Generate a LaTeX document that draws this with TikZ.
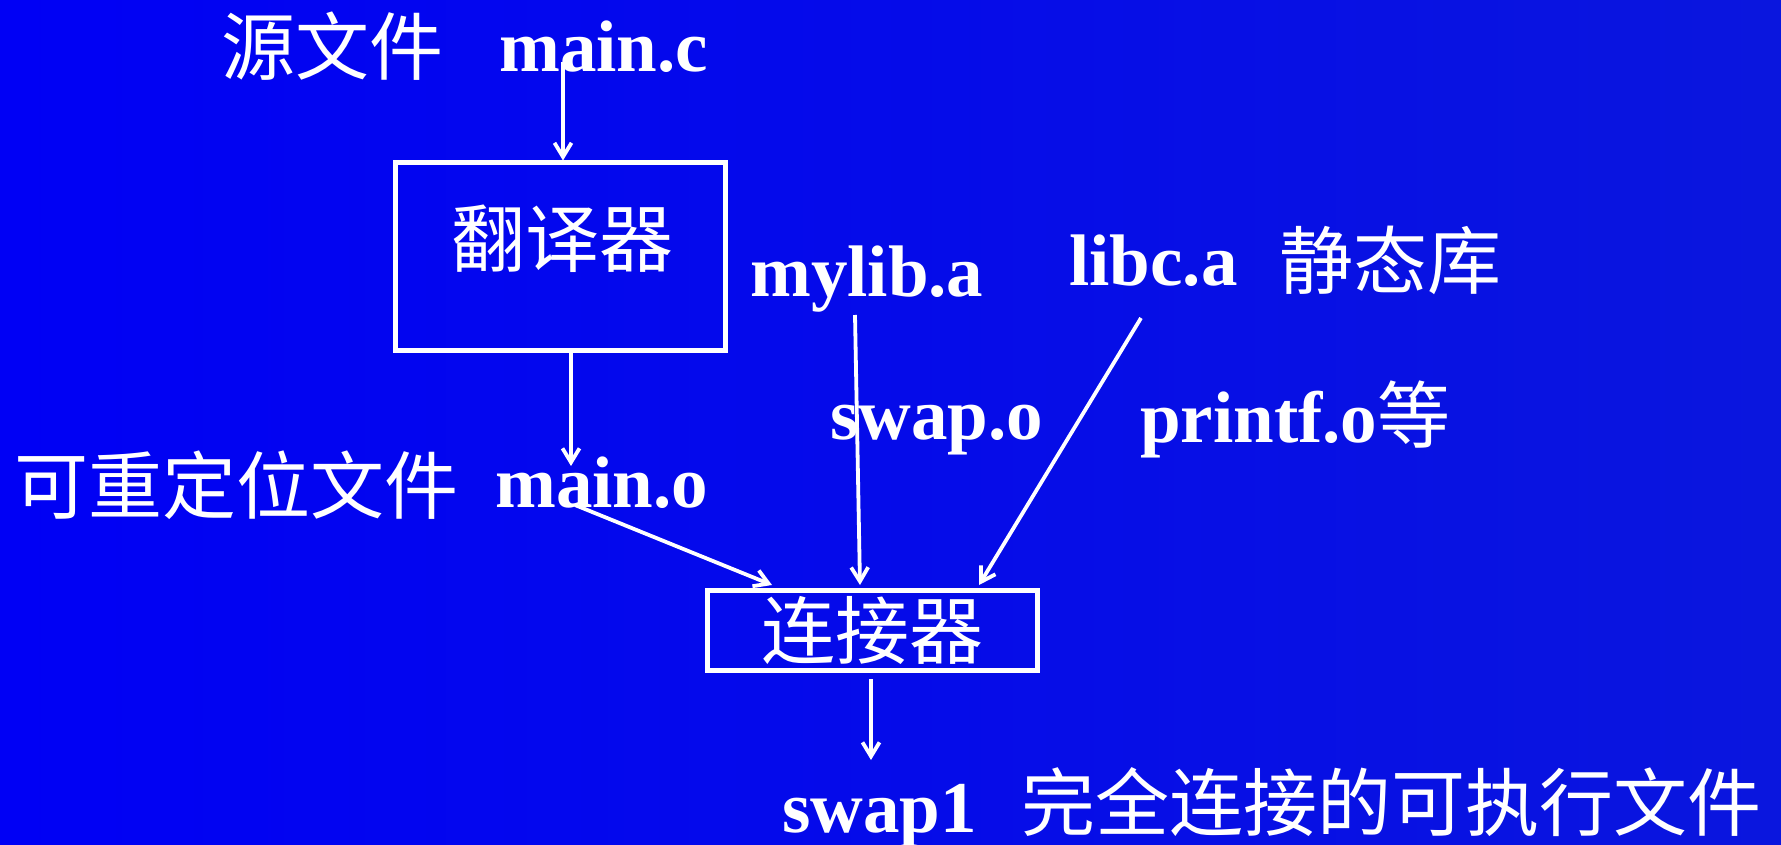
\documentclass[tikz,border=0pt]{standalone}
\usepackage{fontspec}
\setmainfont{Liberation Serif}
\newfontfamily\cjk{Noto Sans CJK SC}
\usetikzlibrary{arrows.meta}
\definecolor{bgblue}{RGB}{0,0,245}
\definecolor{bgdark}{RGB}{10,22,222}
\begin{document}
\begin{tikzpicture}[x=1pt,y=-1pt,
  lat/.style={anchor=base west,inner sep=0pt,text=white,font=\fontsize{73}{80}\selectfont\bfseries},
  cn/.style={anchor=base west,inner sep=0pt,text=white,font=\fontsize{74}{80}\selectfont\cjk},
  boxr/.style={draw=white,line width=5pt,inner sep=0pt,minimum width=330pt},
  conn/.style={draw=white,line width=3.8pt,-{Straight Barb[length=14pt,width=17pt]}}
]
\fill[left color=bgblue,right color=bgdark] (0,0) rectangle (1781,845);
\useasboundingbox (0,0) rectangle (1781,845);

% boxes
\node[boxr,minimum height=187pt] (trans) at (560.5,256.5) {};
\node[cn] (transtxt) at (451,267) {翻译器};
\node[boxr,minimum height=80pt,text=white,font=\fontsize{74}{80}\selectfont\cjk] (link) at (872.5,630.5) {连接器};

% labels
\node[cn] (srccn) at (221,75) {源文件};
\node[lat] (mainc) at (499,72) {main.c};
\node[cn] (relcn) at (14,513) {可重定位文件};
\node[lat] (maino) at (495,507) {main.o};
\node[lat] (mylib) at (750,296) {mylib.a};
\node[lat] (libc) at (1069,286) {libc.a};
\node[cn] (staticcn) at (1279,288) {静态库};
\node[lat] (swapo) at (830,439) {swap.o};
\node[lat] (printfo) at (1140,442) {printf.o{\cjk\mdseries 等}};
\node[lat] (swapone) at (782,832) {swap1};
\node[cn] (exec) at (1021,830) {完全连接的可执行文件};

% connector end points
\coordinate (c1) at (563,62);
\coordinate (c2) at (571,466);
\coordinate (c3) at (575,505);
\coordinate (c4) at (855,315);
\coordinate (c5) at (1141,318);
\coordinate (c6) at (871,760);

% connectors
\draw[conn] (c1) -- (c1 |- trans.north);
\draw[conn] (trans.south -| c2) -- (c2);
\draw[conn] (c3) -- ([xshift=-100.5pt,yshift=3pt]link.north);
\draw[conn] (c4) -- ([xshift=-12.5pt,yshift=3pt]link.north);
\draw[conn] (c5) -- ([xshift=106.5pt,yshift=3pt]link.north);
\draw[conn] ([xshift=-1.5pt,yshift=-6pt]link.south) -- (c6);
\end{tikzpicture}
\end{document}
